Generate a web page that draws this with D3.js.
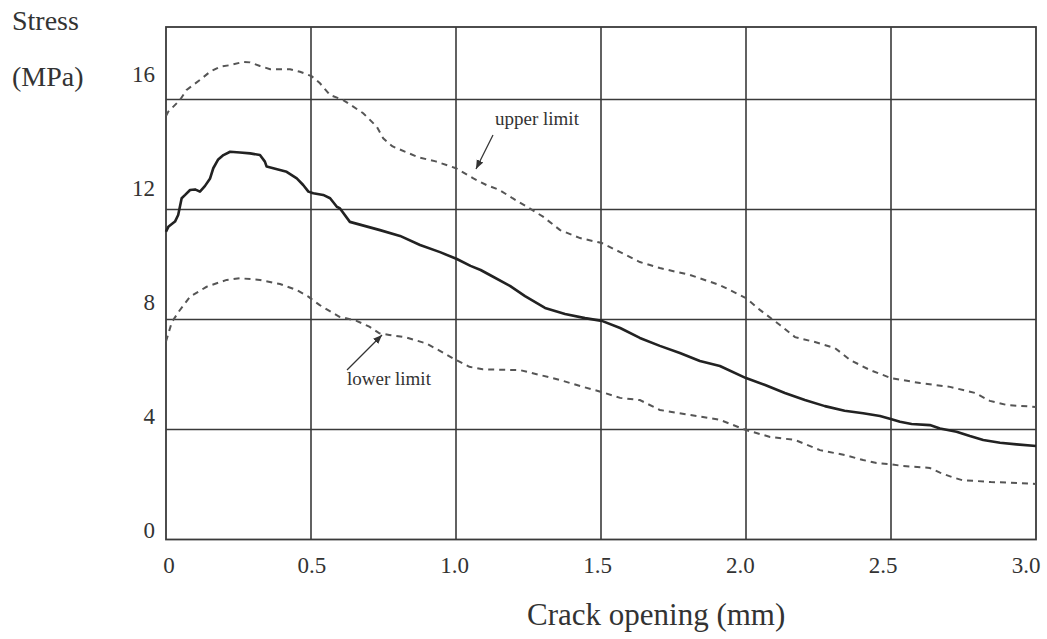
<!DOCTYPE html>
<html>
<head>
<meta charset="utf-8">
<script src="https://cdn.jsdelivr.net/npm/d3@7"></script>
<style>
  html, body { margin: 0; padding: 0; background: #fff; }
  svg { display: block; }
  text { font-family: "Liberation Serif", "Times New Roman", serif; fill: #333; }
</style>
</head>
<body>
<svg id="chart" width="1047" height="639"></svg>
<script>
// Crack opening (mm) vs. stress (MPa): mean curve with upper and lower limits
const xTicks = [0, 0.5, 1.0, 1.5, 2.0, 2.5, 3.0];
const xTickLabels = ["0", "0.5", "1.0", "1.5", "2.0", "2.5", "3.0"];
const yTicks = [0, 4, 8, 12, 16];
const yTickLabels = ["0", "4", "8", "12", "16"];

const meanX = [0, 0.008, 0.031, 0.042, 0.054, 0.066, 0.083, 0.1, 0.117, 0.134, 0.152, 0.163, 0.18, 0.198, 0.221, 0.255, 0.29, 0.324, 0.341, 0.347, 0.37, 0.416, 0.451, 0.473, 0.491, 0.508, 0.542, 0.566, 0.589, 0.6, 0.634, 0.738, 0.807, 0.876, 0.945, 1.003, 1.05, 1.085, 1.12, 1.186, 1.238, 1.307, 1.376, 1.445, 1.503, 1.566, 1.634, 1.703, 1.772, 1.841, 1.91, 2.0, 2.066, 2.134, 2.203, 2.272, 2.34, 2.404, 2.462, 2.499, 2.531, 2.571, 2.634, 2.669, 2.726, 2.772, 2.818, 2.876, 2.933, 3.0];
const meanY = [11.19, 11.37, 11.56, 11.8, 12.41, 12.53, 12.71, 12.73, 12.65, 12.85, 13.13, 13.5, 13.82, 13.98, 14.1, 14.07, 14.04, 13.98, 13.74, 13.56, 13.5, 13.37, 13.13, 12.89, 12.65, 12.59, 12.53, 12.41, 12.1, 12.04, 11.55, 11.25, 11.04, 10.71, 10.45, 10.2, 9.95, 9.8, 9.6, 9.22, 8.85, 8.42, 8.2, 8.05, 7.95, 7.69, 7.33, 7.04, 6.78, 6.49, 6.31, 5.87, 5.62, 5.33, 5.07, 4.85, 4.68, 4.59, 4.49, 4.38, 4.28, 4.2, 4.16, 4.04, 3.92, 3.76, 3.62, 3.52, 3.46, 3.4];

const upperX = [0, 0.008, 0.048, 0.071, 0.117, 0.152, 0.186, 0.221, 0.267, 0.29, 0.324, 0.359, 0.428, 0.462, 0.502, 0.531, 0.566, 0.611, 0.68, 0.727, 0.749, 0.78, 0.87, 0.93, 1.0, 1.06, 1.105, 1.15, 1.195, 1.254, 1.3, 1.359, 1.428, 1.503, 1.566, 1.634, 1.703, 1.807, 1.91, 2.0, 2.048, 2.117, 2.169, 2.238, 2.307, 2.359, 2.428, 2.5, 2.6, 2.703, 2.79, 2.841, 2.9, 3.0];
const upperY = [15.4, 15.56, 15.98, 16.35, 16.71, 17.01, 17.19, 17.25, 17.37, 17.35, 17.22, 17.1, 17.1, 17.01, 16.85, 16.59, 16.16, 15.98, 15.5, 15.01, 14.59, 14.3, 13.9, 13.75, 13.5, 13.13, 12.89, 12.71, 12.41, 12.04, 11.74, 11.25, 10.96, 10.78, 10.45, 10.09, 9.87, 9.62, 9.25, 8.78, 8.35, 7.8, 7.36, 7.18, 6.96, 6.53, 6.16, 5.87, 5.69, 5.55, 5.33, 5.04, 4.89, 4.82];

const lowerX = [0, 0.02, 0.045, 0.083, 0.14, 0.209, 0.255, 0.324, 0.393, 0.451, 0.491, 0.529, 0.598, 0.655, 0.701, 0.736, 0.77, 0.828, 0.897, 0.943, 0.989, 1.046, 1.092, 1.221, 1.29, 1.359, 1.428, 1.503, 1.566, 1.634, 1.703, 1.807, 1.91, 2.0, 2.083, 2.169, 2.255, 2.341, 2.404, 2.45, 2.5, 2.54, 2.59, 2.634, 2.669, 2.71, 2.745, 2.79, 2.845, 2.905, 3.0];
const lowerY = [7.2, 7.9, 8.3, 8.83, 9.19, 9.44, 9.5, 9.44, 9.29, 9.07, 8.83, 8.53, 8.1, 7.96, 7.74, 7.5, 7.44, 7.35, 7.13, 6.87, 6.59, 6.28, 6.19, 6.16, 5.98, 5.8, 5.58, 5.36, 5.15, 5.07, 4.71, 4.53, 4.35, 3.98, 3.73, 3.62, 3.25, 3.07, 2.89, 2.78, 2.74, 2.67, 2.64, 2.6, 2.43, 2.27, 2.16, 2.13, 2.09, 2.07, 2.02];

const svg = d3.select("#chart");
const plot = { left: 166, right: 1036, top: 27, bottom: 539.5 };

const x = d3.scaleLinear().domain([0, 3]).range([plot.left, plot.right]);
const y = d3.scaleLinear().domain([0, 16]).range([plot.bottom, plot.bottom - 440]);
// tick labels are set on their own, slightly offset spacing
const xLabel = d3.scaleLinear().domain([0, 3]).range([169, 1026]);
const yLabel = d3.scaleLinear().domain([0, 16]).range([538, 82]);

// gridlines
const grid = svg.append("g").attr("stroke", "#3a3a3a").attr("stroke-width", 1.6);
grid.selectAll(".vg").data(xTicks.slice(1, -1)).join("line")
  .attr("x1", d => x(d)).attr("x2", d => x(d))
  .attr("y1", plot.top).attr("y2", plot.bottom);
grid.selectAll(".hg").data(yTicks.slice(1)).join("line")
  .attr("x1", plot.left).attr("x2", plot.right)
  .attr("y1", d => y(d)).attr("y2", d => y(d));
svg.append("rect")
  .attr("x", plot.left).attr("y", plot.top)
  .attr("width", plot.right - plot.left).attr("height", plot.bottom - plot.top)
  .attr("fill", "none").attr("stroke", "#3a3a3a").attr("stroke-width", 1.8);

// tick labels
svg.append("g").selectAll("text").data(xTicks).join("text")
  .attr("x", d => xLabel(d)).attr("y", 573)
  .attr("text-anchor", "middle").attr("font-size", 23)
  .text((d, i) => xTickLabels[i]);
svg.append("g").selectAll("text").data(yTicks).join("text")
  .attr("x", 155).attr("y", d => yLabel(d))
  .attr("text-anchor", "end").attr("font-size", 23)
  .text((d, i) => yTickLabels[i]);

// axis titles
svg.append("text").attr("x", 12).attr("y", 30).attr("font-size", 28).text("Stress");
svg.append("text").attr("x", 12).attr("y", 86).attr("font-size", 28).text("(MPa)");
svg.append("text").attr("x", 527).attr("y", 625).attr("font-size", 31).text("Crack opening (mm)");

// curves
const line = d3.line().x(d => x(d[0])).y(d => y(d[1]));
const zip = (a, b) => a.map((v, i) => [v, b[i]]);

svg.append("path").datum(zip(upperX, upperY))
  .attr("d", line).attr("fill", "none")
  .attr("stroke", "#555").attr("stroke-width", 2).attr("stroke-dasharray", "6,5");
svg.append("path").datum(zip(lowerX, lowerY))
  .attr("d", line).attr("fill", "none")
  .attr("stroke", "#555").attr("stroke-width", 2).attr("stroke-dasharray", "6,5");
svg.append("path").datum(zip(meanX, meanY))
  .attr("d", line).attr("fill", "none")
  .attr("stroke", "#222").attr("stroke-width", 2.6).attr("stroke-linejoin", "round");

// annotations with arrows
svg.append("defs").append("marker")
  .attr("id", "arrow").attr("viewBox", "0 0 10 10")
  .attr("refX", 10).attr("refY", 5)
  .attr("markerWidth", 9).attr("markerHeight", 9)
  .attr("markerUnits", "userSpaceOnUse")
  .attr("orient", "auto")
  .append("path").attr("d", "M0,1 L10,5 L0,9 Z").attr("fill", "#333");

svg.append("line")
  .attr("x1", 493).attr("y1", 135).attr("x2", 476).attr("y2", 169)
  .attr("stroke", "#333").attr("stroke-width", 1.2).attr("marker-end", "url(#arrow)");
svg.append("text").attr("x", 495).attr("y", 125).attr("font-size", 19).text("upper limit");

svg.append("line")
  .attr("x1", 347).attr("y1", 370).attr("x2", 382).attr("y2", 335)
  .attr("stroke", "#333").attr("stroke-width", 1.2).attr("marker-end", "url(#arrow)");
svg.append("text").attr("x", 347).attr("y", 385).attr("font-size", 19).text("lower limit");
</script>
</body>
</html>
